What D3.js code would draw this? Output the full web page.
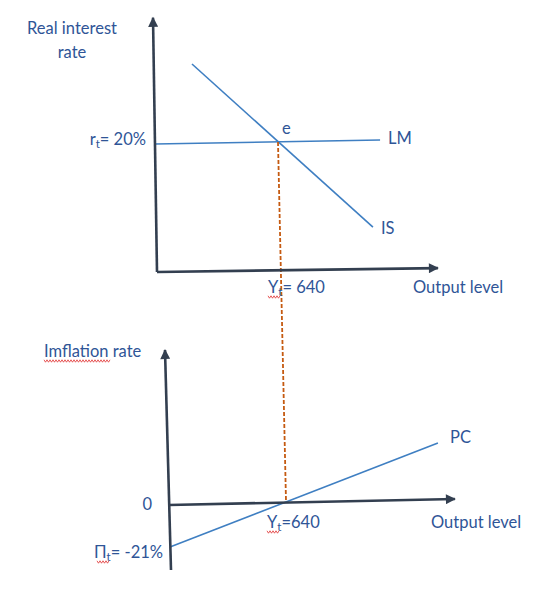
<!DOCTYPE html>
<html>
<head>
<meta charset="utf-8">
<script src="https://cdn.jsdelivr.net/npm/d3@7"></script>
<style>
  body { margin: 0; background: #fff; }
  text { font-family: Lato, "Open Sans", sans-serif; fill: #2F5597; }
</style>
</head>
<body>
<div id="islmPc"></div>
<script>
// equilibrium values
var outputEq = 640;     // Y_t
var rateEq = 20;        // r_t (%)
var inflEq = -21;       // Pi_t (%) intercept of PC

// top panel (interest rate vs output), [output, rate%]
var topYAxis = [[10.4, 0], [-10.4, 39.1]];
var topXAxis = [[10.4, 0], [1472, 0.6]];
var lmCurve = [[0, 19.7], [1171, 20.3]];
var isCurve = [[192.5, 32.0], [1134, 6.9]];

// bottom panel (inflation vs output), [output, inflation%]
var botYAxis = [[10.9, -32.5], [-21.9, 77.5]];
var botXAxis = [[0, 0], [1564, 3]];
var pcCurve = [[5.5, inflEq], [1471, 31]];

var width = 560;
var height = 591;

var svg = d3.select("#islmPc")
            .append("svg")
            .attr("width", width)
            .attr("height", height);

// arrow head for the axes
svg.append("defs")
   .append("marker")
   .attr("id", "arrow")
   .attr("viewBox", "0 0 10 10")
   .attr("refX", 9)
   .attr("refY", 5)
   .attr("markerWidth", 12)
   .attr("markerHeight", 10)
   .attr("markerUnits", "userSpaceOnUse")
   .attr("orient", "auto")
   .append("path")
   .attr("d", "M0,0 L10,5 L0,10 Z")
   .attr("fill", "#333F50");

// scales, one pair per panel (extrapolated outside the domain)
var xTop = d3.scaleLinear().domain([0, outputEq]).range([155, 278]);
var yTop = d3.scaleLinear().domain([0, rateEq]).range([272, 142]);
var xBot = d3.scaleLinear().domain([0, outputEq]).range([169, 286]);
var yBot = d3.scaleLinear().domain([0, inflEq]).range([505, 547]);

var lineTop = d3.line().x(function(d){ return xTop(d[0]); }).y(function(d){ return yTop(d[1]); });
var lineBot = d3.line().x(function(d){ return xBot(d[0]); }).y(function(d){ return yBot(d[1]); });

var axisColor = "#333F50";
var curveColor = "#3F7FC2";

// curves
svg.append("path").attr("d", lineTop(lmCurve)).attr("fill", "none")
   .attr("stroke", curveColor).attr("stroke-width", 1.6);
svg.append("path").attr("d", lineTop(isCurve)).attr("fill", "none")
   .attr("stroke", curveColor).attr("stroke-width", 1.6);
svg.append("path").attr("d", lineBot(pcCurve)).attr("fill", "none")
   .attr("stroke", curveColor).attr("stroke-width", 1.6);

// dashed line from e down to the PC crossing
svg.append("line")
   .attr("x1", xTop(outputEq)).attr("y1", yTop(rateEq))
   .attr("x2", xBot(outputEq)).attr("y2", yBot(0) - 4)
   .attr("stroke", "#C55A11")
   .attr("stroke-width", 1.8)
   .attr("stroke-dasharray", "4,2");

// axes
[[lineTop, topYAxis], [lineTop, topXAxis], [lineBot, botYAxis], [lineBot, botXAxis]]
  .forEach(function(a){
    svg.append("path")
       .attr("d", a[0](a[1]))
       .attr("fill", "none")
       .attr("stroke", axisColor)
       .attr("stroke-width", 2.6)
       .attr("marker-end", "url(#arrow)");
  });

// labels
var fs = 16.5;
function label(x, y, txt, anchor, sub, rest) {
  var t = svg.append("text")
             .attr("x", x).attr("y", y)
             .attr("font-size", fs)
             .attr("text-anchor", anchor || "start");
  t.append("tspan").text(txt);
  if (sub) {
    t.append("tspan").attr("font-size", fs * 0.7).attr("dy", 3).text(sub);
    t.append("tspan").attr("dy", -3).text(rest);
  }
  return t;
}

label(72, 34, "Real interest", "middle");
label(72, 58, "rate", "middle");
label(146, 145, "r", "end", "t", "= 20%");
label(xTop(outputEq) + 4, 134, "e");
label(388, 144, "LM");
label(381, 234, "IS");
label(268, 293, "Y", "start", "t", "= 640");
label(413, 293, "Output level");

label(44, 357, "Imflation rate");
label(152, 510, "0", "end");
label(163, 558, "\u03A0", "end", "t", "= -21%");
label(267, 528, "Y", "start", "t", "=640");
label(431, 528, "Output level");
label(450, 443, "PC");

// red spell-check squiggles under the flagged words
function squiggle(x0, x1, y) {
  var pts = [];
  for (var x = x0, i = 0; x <= x1; x += 1.5, i++) pts.push([x, y + (i % 2 ? 1.2 : -1.2)]);
  svg.append("path").attr("d", d3.line()(pts))
     .attr("fill", "none").attr("stroke", "#E03030").attr("stroke-width", 0.8);
}
squiggle(44, 110, 361);
squiggle(268, 281, 297);
squiggle(97, 110, 562);
squiggle(267, 279, 532);
</script>
</body>
</html>
